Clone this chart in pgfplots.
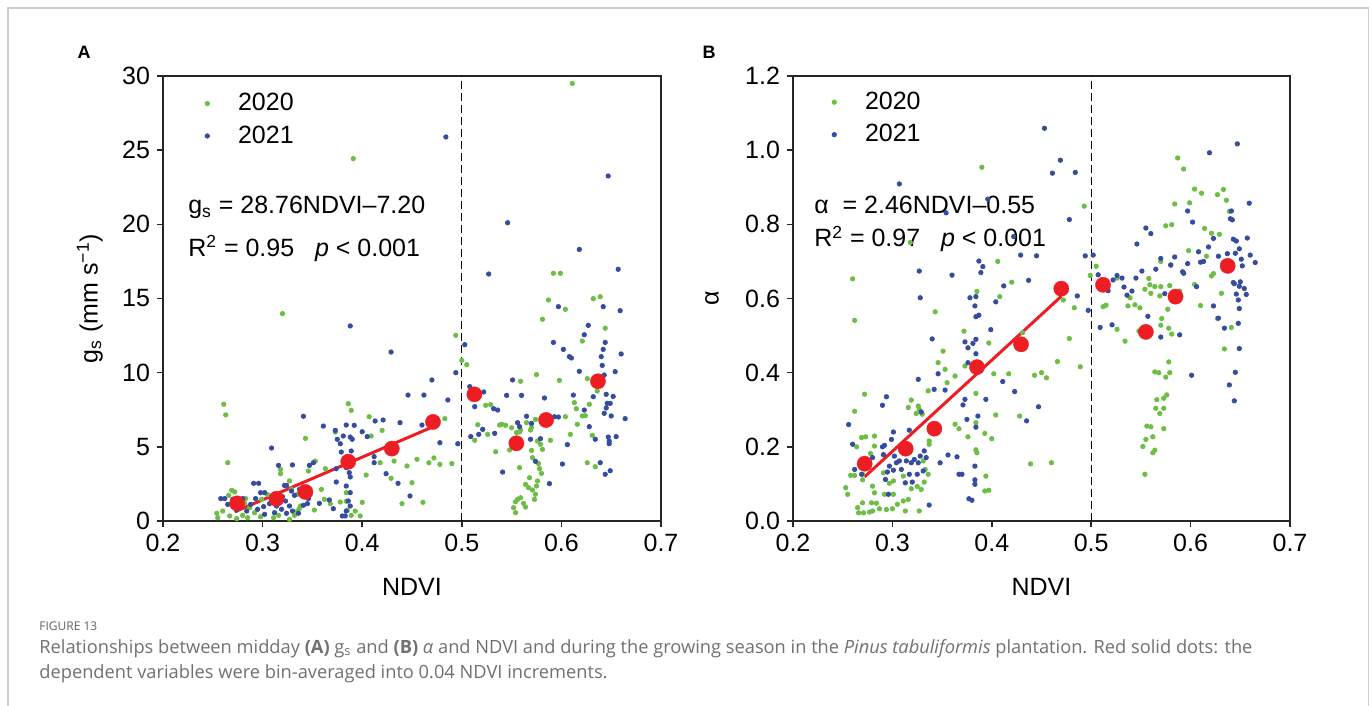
\documentclass[border=0pt]{standalone}
\usepackage{fontspec}
\setmainfont{Liberation Sans}
\newfontfamily\capfont{Open Sans}
\usepackage{pgfplots}
\pgfplotsset{compat=1.18}
\definecolor{cgreen}{RGB}{108,190,69}
\definecolor{cblue}{RGB}{54,76,158}
\definecolor{cred}{RGB}{236,30,36}
\definecolor{capgray}{RGB}{112,112,112}
\definecolor{framegray}{RGB}{205,205,205}
\newcommand\fs{\fontsize{12.5}{15}\selectfont}
\newcommand\capone{Relationships between midday \textbf{(A)} g\textsubscript{s} and \textbf{(B)} \textit{α} and NDVI and during the growing season in the \textit{Pinus tabuliformis} plantation. Red solid dots: the}
\newcommand\captwo{dependent variables were bin-averaged into 0.04 NDVI increments.}
\newlength\capw
\pgfplotsset{
  myax/.style={
    scale only axis, anchor=south west,
    xmin=0.2, xmax=0.7, xtick={0.2,0.3,0.4,0.5,0.6,0.7},
    tick align=outside, tick pos=left, major tick length=3pt,
    axis line style={line width=0.75pt, black!85},
    every tick/.style={line width=0.75pt, black!85},
    tick label style={font=\fs},
    label style={font=\fs},
    /pgf/number format/assume math mode=true,
    xlabel={NDVI},
    xlabel style={at={(axis description cs:0.5,-0.149)}, anchor=center},
    legend style={draw=none, fill=none, font=\fs, at={(0.059,0.980)}, anchor=north west, row sep=2pt},
    legend cell align=left,
  },
  sc/.style={only marks, mark=*, mark size=1.1pt, mark options={draw=none, fill=#1}, color=#1,
    legend image code/.code={\path[draw=none,fill=none] (0cm,0cm) -- (0.62cm,0cm);
      \draw[mark repeat=2,mark phase=2,##1,draw=none] plot coordinates {(0cm,0cm) (0.15cm,0cm) (0.3cm,0cm)};}},
  bin/.style={only marks, mark=*, mark size=3.8pt, color=cred, mark options={draw=cred, fill=cred, line width=0.2pt}, forget plot},
  fit/.style={no marks, cred, line width=1.5pt, forget plot},
  vline/.style={no marks, black, line width=0.7pt, dash pattern=on 4pt off 2pt, forget plot},
}
\begin{document}
\settowidth\capw{\capfont\fontsize{10}{12}\selectfont\capone}%
\pgfmathsetmacro\capsz{10*606.5/\capw}%
\begin{tikzpicture}[x=0.5pt,y=-0.5pt]
\path[use as bounding box] (0,0) rectangle (1372,706);
\draw[framegray, line width=0.8pt] (8,707) -- (8,8) -- (1368.5,8) -- (1368.5,707);
\node[font=\bfseries\fontsize{9}{10}\selectfont, inner sep=0] at (84,52) {A};
\node[font=\bfseries\fontsize{9}{10}\selectfont, inner sep=0] at (709,52) {B};

% ---------------- Panel A ----------------
\begin{axis}[myax, at={(81.5pt,-260.5pt)}, width=249pt, height=222.5pt,
  ymin=0, ymax=30, ytick={0,5,10,15,20,25,30},
  ylabel={g\textsubscript{s} (mm s\textsuperscript{−1})},
  ylabel style={at={(axis description cs:-0.147,0.5)}, anchor=center},
]
\addplot[vline] coordinates {(0.5,0) (0.5,30)};
\addplot[sc=cgreen] table {
0.391 24.43
0.320 13.98
0.494 12.52
0.500 10.83
0.261 7.87
0.263 7.15
0.265 3.93
0.386 7.91
0.389 7.46
0.407 7.03
0.483 6.90
0.420 6.11
0.409 5.73
0.343 5.57
0.373 6.00
0.353 4.04
0.472 4.25
0.490 3.87
0.478 3.82
0.467 3.93
0.455 4.16
0.445 3.71
0.418 3.93
0.432 4.04
0.404 3.10
0.429 2.88
0.450 2.58
0.440 1.17
0.461 1.26
0.400 1.26
0.393 0.67
0.398 0.34
0.318 3.48
0.318 3.19
0.327 2.70
0.346 3.37
0.363 3.53
0.359 2.13
0.362 1.46
0.368 1.17
0.378 1.28
0.384 1.91
0.384 1.33
0.385 0.72
0.389 0.38
0.352 0.74
0.337 0.85
0.335 0.67
0.338 1.01
0.329 2.13
0.335 1.80
0.305 1.78
0.299 1.46
0.283 1.51
0.282 1.19
0.269 2.07
0.272 1.96
0.266 1.73
0.254 0.52
0.255 0.22
0.260 0.67
0.267 0.34
0.274 0.16
0.280 0.38
0.285 0.22
0.292 0.56
0.298 0.29
0.311 0.22
0.316 0.38
0.287 0.90
0.275 0.79
0.332 0.38
0.327 0.11
0.611 29.5
0.592 16.7
0.599 16.7
0.587 14.9
0.604 14.27
0.632 14.99
0.639 15.12
0.581 13.6
0.644 13.0
0.621 12.13
0.505 10.54
0.575 9.87
0.598 9.48
0.559 9.42
0.626 9.60
0.636 8.76
0.524 7.80
0.529 7.84
0.613 7.98
0.628 7.87
0.615 7.57
0.604 7.03
0.621 7.08
0.624 7.10
0.574 6.85
0.565 6.63
0.516 6.49
0.538 6.47
0.540 6.52
0.544 6.45
0.550 6.29
0.570 6.29
0.559 6.13
0.569 6.13
0.616 6.52
0.526 5.84
0.555 5.96
0.558 6.00
0.609 5.84
0.631 5.78
0.513 5.44
0.548 4.79
0.534 4.67
0.570 4.76
0.576 5.39
0.579 5.17
0.581 4.83
0.589 5.44
0.571 4.27
0.577 3.87
0.578 3.53
0.580 3.21
0.558 3.60
0.568 2.92
0.564 2.47
0.567 2.25
0.576 2.70
0.575 2.36
0.571 2.09
0.574 1.80
0.573 1.46
0.559 1.57
0.556 1.46
0.554 1.30
0.562 1.19
0.564 0.94
0.552 0.90
0.554 0.56
0.626 3.93
0.634 3.66
};
\addlegendentry{2020}
\addplot[sc=cblue] table {
0.484 25.89
0.388 13.15
0.429 11.39
0.494 10.00
0.470 9.51
0.446 8.49
0.462 8.49
0.486 8.16
0.341 7.06
0.361 6.40
0.384 6.47
0.392 6.45
0.413 6.74
0.421 6.81
0.438 6.63
0.460 6.47
0.373 6.11
0.400 6.02
0.381 5.73
0.388 5.66
0.390 5.51
0.405 5.69
0.375 5.51
0.478 5.28
0.496 5.21
0.309 4.92
0.378 5.21
0.379 4.65
0.389 4.72
0.316 3.75
0.330 3.78
0.347 3.75
0.351 3.93
0.412 3.93
0.412 4.34
0.374 3.53
0.384 3.60
0.388 2.97
0.387 3.26
0.424 3.19
0.436 2.54
0.448 1.69
0.374 2.63
0.384 2.36
0.388 1.91
0.386 1.35
0.388 1.01
0.384 0.67
0.380 0.34
0.383 0.34
0.371 0.83
0.357 1.19
0.367 1.42
0.345 1.17
0.291 2.54
0.296 2.54
0.298 1.91
0.302 1.91
0.322 2.40
0.324 2.40
0.329 2.02
0.332 1.73
0.337 2.13
0.320 1.64
0.323 1.35
0.327 1.01
0.319 0.79
0.314 1.01
0.307 1.17
0.301 0.97
0.295 0.79
0.302 0.45
0.293 1.51
0.288 1.12
0.280 1.51
0.277 1.01
0.270 1.46
0.265 1.12
0.258 1.51
0.262 1.51
0.274 0.74
0.284 0.67
0.330 0.67
0.336 0.52
0.341 1.06
0.346 1.51
0.324 0.52
0.312 0.56
0.647 23.26
0.546 20.11
0.618 18.31
0.657 16.97
0.527 16.65
0.597 14.45
0.642 14.45
0.659 14.18
0.627 13.19
0.623 12.56
0.644 12.04
0.592 12.04
0.503 11.89
0.602 11.57
0.642 11.57
0.640 11.08
0.608 11.08
0.610 10.99
0.660 11.26
0.641 10.49
0.618 10.09
0.643 9.84
0.654 10.07
0.551 9.51
0.508 9.06
0.522 8.70
0.545 8.47
0.560 8.47
0.583 8.29
0.612 8.49
0.632 8.38
0.645 8.54
0.652 8.40
0.513 7.71
0.532 7.57
0.536 7.48
0.646 7.93
0.649 7.93
0.645 7.62
0.643 7.26
0.650 7.08
0.565 7.06
0.593 7.03
0.597 7.01
0.623 7.48
0.664 6.90
0.556 6.63
0.558 6.36
0.570 6.58
0.628 6.36
0.521 6.18
0.517 5.84
0.509 5.69
0.533 5.91
0.569 5.51
0.579 5.55
0.634 5.51
0.647 5.66
0.655 5.69
0.648 5.39
0.648 5.21
0.606 5.15
0.574 4.02
0.601 3.84
0.639 3.93
0.541 3.30
0.644 3.15
0.649 3.39
0.588 2.52
};
\addlegendentry{2021}
\addplot[fit] coordinates {(0.272,0.62) (0.470,6.32)};
\addplot[bin] coordinates {
(0.2744,1.19) (0.3139,1.50) (0.343,1.96) (0.386,4.00) (0.4297,4.88)
(0.4711,6.68) (0.5126,8.54) (0.5548,5.24) (0.5846,6.81) (0.6367,9.42)};
\node[anchor=base west, font=\fs, inner sep=0] at (rel axis cs:0.050,0.690) {g\textsubscript{s} = 28.76NDVI–7.20};
\node[anchor=base west, font=\fs, inner sep=0] at (rel axis cs:0.050,0.5955) {R\textsuperscript{2} = 0.95~~~\textit{p} < 0.001};
\end{axis}

% ---------------- Panel B ----------------
\begin{axis}[myax, at={(396.5pt,-260.5pt)}, width=248.5pt, height=222.5pt,
  ymin=0, ymax=1.2, ytick={0,0.2,0.4,0.6,0.8,1.0,1.2},
  yticklabel style={/pgf/number format/.cd, fixed, fixed zerofill, precision=1},
  ylabel={α},
  ylabel style={at={(axis description cs:-0.163,0.5)}, anchor=center},
  legend style={at={(0.053,0.983)}},
]
\addplot[vline] coordinates {(0.5,0) (0.5,1.2)};
\addplot[sc=cgreen] table {
0.390 0.954
0.260 0.653
0.262 0.541
0.406 0.700
0.420 0.644
0.408 0.605
0.385 0.619
0.343 0.564
0.318 0.751
0.493 0.849
0.499 0.662
0.472 0.596
0.483 0.575
0.372 0.512
0.397 0.480
0.431 0.508
0.478 0.492
0.351 0.458
0.346 0.427
0.353 0.409
0.373 0.418
0.466 0.430
0.489 0.416
0.363 0.391
0.355 0.373
0.402 0.397
0.417 0.397
0.443 0.393
0.450 0.400
0.455 0.386
0.336 0.351
0.319 0.326
0.316 0.306
0.326 0.310
0.327 0.301
0.330 0.288
0.324 0.290
0.272 0.342
0.262 0.296
0.384 0.344
0.404 0.286
0.428 0.283
0.363 0.261
0.367 0.249
0.376 0.227
0.393 0.236
0.400 0.222
0.384 0.192
0.385 0.184
0.439 0.154
0.460 0.157
0.269 0.225
0.273 0.227
0.264 0.200
0.282 0.229
0.282 0.202
0.278 0.182
0.274 0.164
0.337 0.207
0.337 0.216
0.331 0.162
0.333 0.139
0.336 0.126
0.332 0.105
0.329 0.085
0.325 0.093
0.319 0.087
0.311 0.121
0.301 0.108
0.297 0.102
0.291 0.130
0.280 0.094
0.282 0.076
0.270 0.126
0.270 0.111
0.262 0.123
0.258 0.123
0.253 0.090
0.255 0.072
0.270 0.049
0.271 0.022
0.279 0.049
0.284 0.048
0.277 0.024
0.280 0.027
0.287 0.033
0.265 0.036
0.266 0.022
0.292 0.072
0.301 0.072
0.294 0.031
0.300 0.033
0.305 0.045
0.311 0.054
0.316 0.058
0.313 0.027
0.327 0.027
0.318 0.198
0.384 0.265
0.393 0.081
0.397 0.083
0.394 0.121
0.272 0.146
0.587 0.979
0.593 0.949
0.604 0.895
0.611 0.884
0.633 0.894
0.627 0.880
0.636 0.865
0.584 0.855
0.599 0.858
0.639 0.835
0.575 0.796
0.581 0.799
0.614 0.789
0.621 0.776
0.629 0.773
0.598 0.729
0.616 0.714
0.505 0.687
0.570 0.700
0.580 0.691
0.623 0.667
0.621 0.661
0.526 0.655
0.558 0.654
0.559 0.637
0.564 0.632
0.570 0.632
0.579 0.635
0.554 0.625
0.560 0.614
0.589 0.620
0.604 0.638
0.631 0.614
0.539 0.602
0.569 0.607
0.537 0.580
0.544 0.583
0.549 0.575
0.577 0.571
0.610 0.581
0.512 0.578
0.515 0.582
0.571 0.546
0.570 0.528
0.578 0.520
0.581 0.504
0.526 0.517
0.534 0.485
0.548 0.512
0.627 0.546
0.641 0.522
0.634 0.464
0.578 0.429
0.564 0.402
0.568 0.400
0.575 0.388
0.579 0.400
0.576 0.340
0.566 0.327
0.573 0.331
0.565 0.304
0.573 0.304
0.569 0.290
0.556 0.256
0.560 0.254
0.573 0.249
0.555 0.220
0.562 0.227
0.552 0.201
0.564 0.191
0.562 0.184
0.554 0.126
};
\addlegendentry{2020}
\addplot[sc=cblue] table {
0.453 1.059
0.469 0.973
0.461 0.938
0.484 0.940
0.307 0.909
0.478 0.813
0.354 0.831
0.396 0.868
0.422 0.767
0.429 0.717
0.445 0.715
0.494 0.715
0.387 0.701
0.391 0.686
0.327 0.674
0.360 0.663
0.389 0.670
0.437 0.649
0.412 0.634
0.384 0.605
0.328 0.602
0.378 0.602
0.404 0.591
0.383 0.580
0.486 0.607
0.497 0.568
0.387 0.555
0.384 0.551
0.399 0.516
0.340 0.491
0.373 0.483
0.384 0.490
0.381 0.479
0.376 0.467
0.384 0.451
0.376 0.427
0.346 0.397
0.326 0.382
0.411 0.376
0.423 0.349
0.342 0.355
0.353 0.353
0.294 0.335
0.290 0.312
0.373 0.328
0.394 0.328
0.371 0.313
0.447 0.308
0.329 0.294
0.375 0.274
0.386 0.283
0.435 0.270
0.256 0.260
0.384 0.253
0.260 0.207
0.299 0.220
0.290 0.200
0.292 0.204
0.302 0.175
0.311 0.184
0.304 0.157
0.307 0.162
0.314 0.162
0.319 0.157
0.322 0.166
0.326 0.157
0.328 0.175
0.332 0.189
0.334 0.171
0.297 0.148
0.301 0.137
0.309 0.139
0.317 0.126
0.325 0.126
0.331 0.135
0.295 0.132
0.291 0.179
0.280 0.171
0.269 0.126
0.293 0.112
0.313 0.103
0.320 0.105
0.296 0.072
0.356 0.178
0.365 0.173
0.348 0.157
0.367 0.126
0.370 0.126
0.383 0.148
0.383 0.111
0.383 0.099
0.377 0.060
0.380 0.056
0.337 0.043
0.317 0.245
0.301 0.240
0.262 0.139
0.274 0.144
0.647 1.017
0.619 0.993
0.659 0.857
0.597 0.836
0.641 0.836
0.602 0.806
0.640 0.815
0.642 0.812
0.555 0.790
0.560 0.775
0.546 0.747
0.623 0.762
0.643 0.760
0.646 0.755
0.657 0.763
0.618 0.739
0.608 0.726
0.649 0.734
0.502 0.717
0.570 0.708
0.584 0.712
0.628 0.714
0.637 0.721
0.645 0.722
0.651 0.706
0.660 0.717
0.665 0.697
0.610 0.698
0.613 0.700
0.597 0.694
0.652 0.688
0.580 0.690
0.565 0.679
0.551 0.674
0.592 0.672
0.593 0.668
0.507 0.664
0.526 0.662
0.531 0.655
0.522 0.650
0.545 0.655
0.643 0.643
0.644 0.640
0.650 0.645
0.649 0.633
0.654 0.627
0.533 0.631
0.541 0.620
0.517 0.621
0.536 0.609
0.606 0.632
0.574 0.613
0.646 0.612
0.656 0.611
0.648 0.596
0.649 0.573
0.623 0.580
0.557 0.552
0.628 0.547
0.634 0.520
0.648 0.533
0.509 0.522
0.521 0.529
0.570 0.496
0.589 0.502
0.649 0.465
0.601 0.393
0.645 0.401
0.639 0.367
0.644 0.324
};
\addlegendentry{2021}
\addplot[fit] coordinates {(0.272,0.119) (0.470,0.606)};
\addplot[bin] coordinates {
(0.2721,0.1545) (0.3134,0.195) (0.3422,0.249) (0.3851,0.415) (0.4294,0.4765)
(0.4699,0.6265) (0.5119,0.637) (0.555,0.510) (0.5848,0.605) (0.6373,0.688)};
\node[anchor=base west, font=\fs, inner sep=0] at (rel axis cs:0.042,0.692) {α~~= 2.46NDVI–0.55};
\node[anchor=base west, font=\fs, inner sep=0] at (rel axis cs:0.042,0.616) {R\textsuperscript{2} = 0.97~~~\textit{p} < 0.001};
\end{axis}

% ---------------- Caption ----------------
\node[anchor=base west, inner sep=0, text=black!62, font=\capfont\fontsize{6}{7}\selectfont] at (39,630) {FIGURE 13};
\node[anchor=base west, inner sep=0, text=capgray, font=\capfont\fontsize{\capsz}{\capsz}\selectfont] at (39,653) {\capone};
\node[anchor=base west, inner sep=0, text=capgray, font=\capfont\fontsize{\capsz}{\capsz}\selectfont] at (39,678) {\captwo};
\end{tikzpicture}
\end{document}
